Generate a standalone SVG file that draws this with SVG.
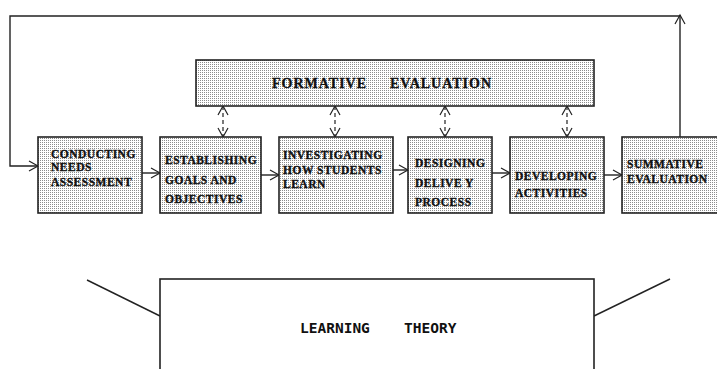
<svg xmlns="http://www.w3.org/2000/svg" width="717" height="369" viewBox="0 0 717 369">
<defs>
<pattern id="dots" width="2" height="2" patternUnits="userSpaceOnUse">
<rect width="2" height="2" fill="#ffffff"/>
<rect width="1" height="1" fill="#8c8c8c"/>
</pattern>
<marker id="arr" markerWidth="12" markerHeight="12" refX="10" refY="6" orient="auto-start-reverse" markerUnits="userSpaceOnUse">
<path d="M1,1 L10,6 L1,11" fill="none" stroke="#222" stroke-width="1.2"/>
</marker>
<style>
.box{fill:url(#dots);stroke:#222;stroke-width:1.6}
.lbl{font-family:"Liberation Serif",serif;font-weight:bold;font-size:11.5px;fill:#111;stroke:#111;stroke-width:0.35;letter-spacing:0.5px}
.fe{font-family:"Liberation Serif",serif;font-weight:bold;font-size:14px;fill:#111;stroke:#111;stroke-width:0.3;letter-spacing:1px}
.lt{font-family:"DejaVu Sans Mono",monospace;font-weight:bold;font-size:14.5px;fill:#111}
.ln{fill:none;stroke:#222;stroke-width:1.4}
.dl{fill:none;stroke:#222;stroke-width:1.2;stroke-dasharray:4 3}
</style>
</defs>
<rect width="717" height="369" fill="#ffffff"/>

<g id="connectors">
<path class="ln" d="M680,137 L680,15" marker-end="url(#arr)"/>
<path class="ln" d="M680,16 L10,16 L10,166 L38,166" marker-end="url(#arr)"/>
<path class="ln" d="M142,173 L160,173" marker-end="url(#arr)"/>
<path class="ln" d="M261,175 L279,175" marker-end="url(#arr)"/>
<path class="ln" d="M393,170 L408,170" marker-end="url(#arr)"/>
<path class="ln" d="M492,173 L510,173" marker-end="url(#arr)"/>
<path class="ln" d="M604,175 L622,175" marker-end="url(#arr)"/>
<path class="dl" d="M223,106 L223,137" marker-start="url(#arr)" marker-end="url(#arr)"/>
<path class="dl" d="M335,106 L335,137" marker-start="url(#arr)" marker-end="url(#arr)"/>
<path class="dl" d="M445,106 L445,137" marker-start="url(#arr)" marker-end="url(#arr)"/>
<path class="dl" d="M567,106 L567,137" marker-start="url(#arr)" marker-end="url(#arr)"/>
<path class="ln" d="M87,280 L160,316"/>
<path class="ln" d="M594,316 L670,279"/>
</g>

<g id="formative">
<rect class="box" x="196" y="60" width="398" height="46"/>
<text class="fe" x="272" y="88">FORMATIVE</text>
<text class="fe" x="390" y="88">EVALUATION</text>
</g>

<g id="needs">
<rect class="box" x="38" y="137" width="104" height="76"/>
<text class="lbl" x="51" y="158">CONDUCTING</text>
<text class="lbl" x="51" y="171">NEEDS</text>
<text class="lbl" x="51" y="186">ASSESSMENT</text>
</g>

<g id="goals">
<rect class="box" x="160" y="137" width="101" height="76"/>
<text class="lbl" x="165" y="164">ESTABLISHING</text>
<text class="lbl" x="165" y="184">GOALS AND</text>
<text class="lbl" x="165" y="203">OBJECTIVES</text>
</g>

<g id="learn">
<rect class="box" x="279" y="137" width="114" height="76"/>
<text class="lbl" x="283" y="159">INVESTIGATING</text>
<text class="lbl" x="283" y="174">HOW STUDENTS</text>
<text class="lbl" x="283" y="188">LEARN</text>
</g>

<g id="design">
<rect class="box" x="408" y="137" width="84" height="76"/>
<text class="lbl" x="415" y="167">DESIGNING</text>
<text class="lbl" x="415" y="187">DELIVE Y</text>
<text class="lbl" x="415" y="206">PROCESS</text>
</g>

<g id="develop">
<rect class="box" x="510" y="137" width="94" height="76"/>
<text class="lbl" x="515" y="180">DEVELOPING</text>
<text class="lbl" x="515" y="197">ACTIVITIES</text>
</g>

<g id="summative">
<rect class="box" x="622" y="137" width="100" height="76"/>
<text class="lbl" x="627" y="168">SUMMATIVE</text>
<text class="lbl" x="627" y="183">EVALUATION</text>
</g>

<g id="theory">
<rect x="160" y="279" width="434" height="100" fill="#ffffff" stroke="#222" stroke-width="1.6"/>
<text class="lt" x="300" y="333">LEARNING</text>
<text class="lt" x="404" y="333">THEORY</text>
</g>
</svg>
